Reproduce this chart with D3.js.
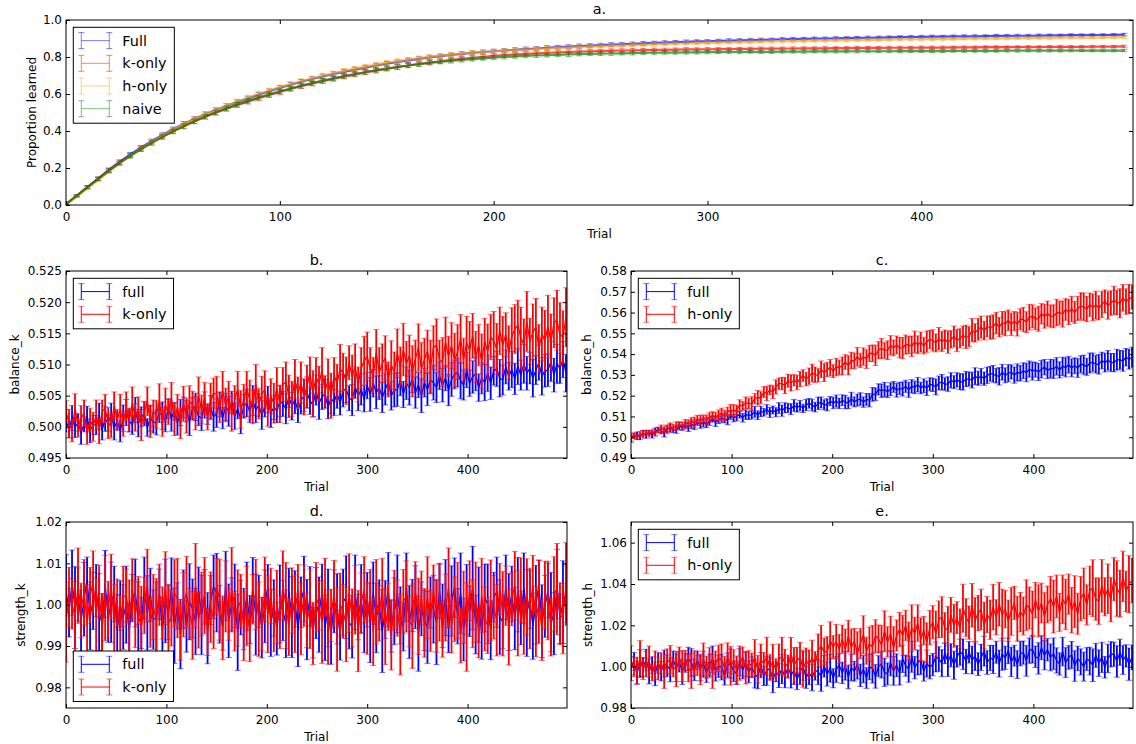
<!DOCTYPE html>
<html>
<head>
<meta charset="utf-8">
<script src="https://cdn.jsdelivr.net/npm/d3@7"></script>
<style>
  body { margin: 0; background: #fff; }
  text { font-family: "DejaVu Sans", sans-serif; fill: #000; }
</style>
</head>
<body>
<svg id="fig" width="1136" height="744"></svg>
<script>
// Trials at which the learning curves (a) and the parameter traces (b-e) were logged
const trialsA = d3.range(0, 500, 5);
const trialsP = d3.range(0, 500, 3);
const xTicks = [0, 100, 200, 300, 400];

// ---- a. proportion of items learned ----
const propFull = [0.005,0.050,0.097,0.143,0.190,0.233,0.273,0.310,0.345,0.378,0.409,0.438,0.465,0.490,0.513,0.535,0.556,0.576,0.596,0.615,
0.633,0.650,0.666,0.681,0.695,0.708,0.720,0.732,0.743,0.754,0.764,0.773,0.782,0.790,0.798,0.805,0.811,0.817,0.822,0.827,
0.831,0.835,0.839,0.843,0.846,0.850,0.853,0.856,0.859,0.862,0.864,0.867,0.869,0.871,0.874,0.876,0.878,0.880,0.882,0.884,
0.885,0.887,0.889,0.890,0.892,0.893,0.894,0.896,0.897,0.898,0.899,0.900,0.901,0.902,0.903,0.904,0.905,0.906,0.907,0.908,
0.909,0.910,0.910,0.911,0.912,0.912,0.913,0.914,0.914,0.915,0.915,0.916,0.917,0.917,0.918,0.918,0.919,0.919,0.920,0.921];
const propKonly = [0.005,0.050,0.096,0.141,0.186,0.228,0.267,0.303,0.337,0.369,0.399,0.427,0.453,0.477,0.499,0.520,0.540,0.559,0.577,0.594,
0.611,0.627,0.642,0.656,0.669,0.682,0.694,0.705,0.716,0.726,0.736,0.745,0.754,0.762,0.770,0.777,0.784,0.790,0.796,0.801,
0.806,0.810,0.814,0.817,0.820,0.823,0.825,0.827,0.829,0.831,0.832,0.834,0.835,0.836,0.837,0.838,0.839,0.840,0.841,0.841,
0.842,0.843,0.843,0.844,0.844,0.845,0.845,0.846,0.846,0.847,0.847,0.847,0.848,0.848,0.849,0.849,0.849,0.850,0.850,0.850,
0.851,0.851,0.851,0.852,0.852,0.852,0.853,0.853,0.853,0.854,0.854,0.854,0.855,0.855,0.855,0.855,0.856,0.856,0.856,0.857];
const propHonly = [0.003,0.045,0.090,0.135,0.180,0.224,0.265,0.303,0.340,0.374,0.406,0.436,0.464,0.490,0.514,0.537,0.559,0.580,0.600,0.619,
0.637,0.654,0.670,0.685,0.699,0.712,0.725,0.737,0.748,0.759,0.769,0.778,0.786,0.794,0.801,0.807,0.813,0.818,0.823,0.827,
0.831,0.834,0.837,0.840,0.843,0.846,0.849,0.851,0.854,0.856,0.858,0.860,0.862,0.864,0.866,0.868,0.870,0.872,0.873,0.875,
0.876,0.878,0.879,0.880,0.882,0.883,0.884,0.885,0.886,0.887,0.888,0.889,0.890,0.891,0.892,0.893,0.893,0.894,0.895,0.896,
0.896,0.897,0.898,0.898,0.899,0.900,0.900,0.901,0.901,0.902,0.902,0.903,0.903,0.904,0.904,0.905,0.905,0.906,0.906,0.907];
const propNaive = [0.004,0.049,0.095,0.140,0.184,0.226,0.265,0.301,0.335,0.367,0.397,0.425,0.452,0.477,0.500,0.522,0.543,0.563,0.581,0.598,
0.614,0.630,0.645,0.659,0.672,0.685,0.697,0.708,0.719,0.729,0.738,0.746,0.754,0.761,0.768,0.774,0.779,0.784,0.789,0.793,
0.797,0.800,0.803,0.806,0.808,0.810,0.812,0.814,0.816,0.817,0.818,0.819,0.820,0.821,0.822,0.823,0.824,0.824,0.825,0.825,
0.826,0.826,0.827,0.827,0.828,0.828,0.828,0.829,0.829,0.829,0.830,0.830,0.830,0.830,0.831,0.831,0.831,0.831,0.832,0.832,
0.832,0.832,0.832,0.833,0.833,0.833,0.833,0.833,0.834,0.834,0.834,0.834,0.834,0.834,0.835,0.835,0.835,0.835,0.835,0.835];
const errPropFull = [0.002,0.006,0.008,0.009,0.010,0.011,0.011,0.012,0.011,0.012,0.012,0.013,0.012,0.013,0.012,0.012,0.013,0.012,0.013,0.012,
0.012,0.013,0.012,0.012,0.013,0.012,0.012,0.013,0.012,0.012,0.012,0.011,0.012,0.011,0.012,0.011,0.011,0.012,0.011,0.011,
0.011,0.010,0.011,0.011,0.010,0.011,0.010,0.010,0.011,0.010,0.010,0.010,0.009,0.010,0.010,0.009,0.010,0.009,0.010,0.009,
0.009,0.009,0.010,0.009,0.009,0.009,0.008,0.009,0.009,0.008,0.009,0.008,0.009,0.008,0.008,0.009,0.008,0.008,0.008,0.008,
0.008,0.008,0.007,0.008,0.008,0.008,0.007,0.008,0.007,0.008,0.007,0.008,0.007,0.007,0.008,0.007,0.007,0.007,0.007,0.007];
const errPropKonly = [0.002,0.005,0.008,0.009,0.010,0.010,0.011,0.012,0.012,0.011,0.012,0.012,0.013,0.012,0.013,0.013,0.012,0.013,0.012,0.013,
0.013,0.012,0.013,0.012,0.012,0.013,0.012,0.012,0.012,0.013,0.011,0.012,0.012,0.011,0.011,0.012,0.011,0.011,0.011,0.012,
0.010,0.011,0.011,0.010,0.011,0.010,0.011,0.010,0.010,0.010,0.009,0.010,0.010,0.010,0.009,0.010,0.009,0.009,0.010,0.009,
0.009,0.009,0.009,0.008,0.009,0.009,0.009,0.008,0.009,0.008,0.008,0.009,0.008,0.008,0.009,0.008,0.008,0.008,0.008,0.007,
0.008,0.008,0.008,0.007,0.008,0.007,0.008,0.008,0.007,0.007,0.008,0.007,0.007,0.008,0.007,0.007,0.007,0.007,0.006,0.007];
const errPropHonly = [0.002,0.006,0.007,0.009,0.010,0.011,0.012,0.011,0.012,0.012,0.013,0.012,0.012,0.013,0.013,0.012,0.013,0.013,0.012,0.013,
0.012,0.013,0.013,0.012,0.013,0.012,0.013,0.012,0.012,0.012,0.012,0.012,0.011,0.012,0.011,0.012,0.011,0.011,0.012,0.011,
0.011,0.011,0.010,0.011,0.010,0.011,0.010,0.011,0.010,0.010,0.010,0.009,0.010,0.010,0.009,0.010,0.009,0.009,0.009,0.010,
0.009,0.009,0.008,0.009,0.009,0.008,0.009,0.009,0.008,0.009,0.008,0.008,0.008,0.009,0.008,0.008,0.008,0.007,0.008,0.008,
0.008,0.007,0.008,0.008,0.007,0.008,0.007,0.007,0.008,0.007,0.007,0.007,0.008,0.007,0.007,0.007,0.006,0.007,0.007,0.007];
const errPropNaive = [0.002,0.005,0.007,0.008,0.009,0.010,0.011,0.011,0.012,0.012,0.012,0.013,0.012,0.012,0.013,0.012,0.013,0.012,0.012,0.013,
0.012,0.012,0.013,0.012,0.012,0.012,0.013,0.012,0.012,0.011,0.012,0.012,0.011,0.012,0.011,0.011,0.012,0.011,0.011,0.010,
0.011,0.011,0.010,0.010,0.011,0.010,0.010,0.011,0.010,0.009,0.010,0.010,0.009,0.010,0.009,0.010,0.009,0.009,0.009,0.009,
0.009,0.008,0.009,0.009,0.008,0.009,0.009,0.008,0.008,0.009,0.008,0.008,0.008,0.008,0.009,0.008,0.007,0.008,0.008,0.008,
0.007,0.008,0.008,0.007,0.008,0.007,0.008,0.007,0.007,0.008,0.007,0.007,0.007,0.007,0.007,0.006,0.007,0.007,0.007,0.006];

// ---- b. balance_k ----
const balKFull = [0.5010,0.4996,0.5014,0.4999,0.5007,0.4991,0.5004,0.5016,0.4994,0.5003,
0.5003,0.5017,0.4995,0.5013,0.5006,0.5020,0.4998,0.5010,0.4993,0.5014,
0.5023,0.5010,0.5003,0.5027,0.5006,0.5016,0.5021,0.4999,0.5014,0.5007,
0.5007,0.5022,0.5018,0.5010,0.5029,0.5014,0.5025,0.5006,0.5023,0.5031,
0.5025,0.5009,0.5029,0.5032,0.5017,0.5014,0.5035,0.5020,0.5031,0.5016,
0.5022,0.5036,0.5014,0.5032,0.5025,0.5039,0.5017,0.5029,0.5012,0.5033,
0.5038,0.5024,0.5042,0.5027,0.5035,0.5019,0.5032,0.5044,0.5022,0.5031,
0.5026,0.5041,0.5037,0.5029,0.5048,0.5033,0.5044,0.5025,0.5042,0.5050,
0.5055,0.5042,0.5035,0.5059,0.5038,0.5048,0.5053,0.5031,0.5046,0.5039,
0.5054,0.5038,0.5058,0.5061,0.5046,0.5043,0.5064,0.5049,0.5060,0.5045,
0.5066,0.5052,0.5070,0.5055,0.5063,0.5047,0.5060,0.5072,0.5050,0.5059,
0.5060,0.5074,0.5052,0.5070,0.5063,0.5077,0.5055,0.5067,0.5050,0.5071,
0.5060,0.5075,0.5071,0.5063,0.5082,0.5067,0.5078,0.5059,0.5076,0.5084,
0.5087,0.5074,0.5067,0.5091,0.5070,0.5080,0.5085,0.5063,0.5078,0.5071,
0.5086,0.5070,0.5090,0.5093,0.5078,0.5075,0.5096,0.5081,0.5092,0.5077,
0.5097,0.5083,0.5101,0.5086,0.5094,0.5078,0.5091,0.5103,0.5081,0.5090,
0.5091,0.5105,0.5083,0.5101,0.5094,0.5108,0.5086];
const balKKonly = [0.5025,0.5005,0.4994,0.5031,0.4999,0.5014,0.5022,0.4988,0.5011,0.5000,
0.5019,0.4994,0.5025,0.5029,0.5006,0.5002,0.5034,0.5011,0.5028,0.5005,
0.5032,0.5011,0.5038,0.5015,0.5028,0.5003,0.5023,0.5041,0.5008,0.5022,
0.5020,0.5041,0.5008,0.5035,0.5024,0.5046,0.5012,0.5031,0.5005,0.5037,
0.5018,0.5041,0.5035,0.5022,0.5051,0.5028,0.5045,0.5016,0.5042,0.5054,
0.5052,0.5031,0.5058,0.5035,0.5048,0.5023,0.5043,0.5061,0.5028,0.5042,
0.5063,0.5043,0.5032,0.5069,0.5037,0.5052,0.5060,0.5026,0.5049,0.5038,
0.5062,0.5037,0.5068,0.5072,0.5049,0.5045,0.5077,0.5054,0.5071,0.5048,
0.5065,0.5086,0.5053,0.5080,0.5069,0.5091,0.5057,0.5076,0.5050,0.5082,
0.5070,0.5093,0.5087,0.5074,0.5103,0.5080,0.5097,0.5068,0.5094,0.5106,
0.5113,0.5093,0.5082,0.5119,0.5087,0.5102,0.5110,0.5076,0.5099,0.5088,
0.5118,0.5097,0.5124,0.5101,0.5114,0.5089,0.5109,0.5127,0.5094,0.5108,
0.5121,0.5096,0.5127,0.5131,0.5108,0.5104,0.5136,0.5113,0.5130,0.5107,
0.5120,0.5141,0.5108,0.5135,0.5124,0.5146,0.5112,0.5131,0.5105,0.5137,
0.5121,0.5144,0.5138,0.5125,0.5154,0.5131,0.5148,0.5119,0.5145,0.5157,
0.5163,0.5143,0.5132,0.5169,0.5137,0.5152,0.5160,0.5126,0.5149,0.5138,
0.5161,0.5136,0.5167,0.5171,0.5148,0.5144,0.5176];
const errBalKFull = [0.0018,0.0013,0.0020,0.0016,0.0014,0.0019,0.0012,0.0017,0.0019,0.0015,
0.0015,0.0021,0.0016,0.0020,0.0013,0.0018,0.0019,0.0014,0.0017,0.0021,
0.0021,0.0018,0.0015,0.0020,0.0022,0.0016,0.0019,0.0014,0.0021,0.0017,
0.0020,0.0015,0.0022,0.0018,0.0016,0.0021,0.0014,0.0019,0.0021,0.0017,
0.0017,0.0023,0.0018,0.0022,0.0015,0.0020,0.0021,0.0016,0.0019,0.0023,
0.0023,0.0020,0.0017,0.0022,0.0024,0.0018,0.0021,0.0016,0.0023,0.0019,
0.0022,0.0017,0.0024,0.0020,0.0018,0.0023,0.0016,0.0021,0.0023,0.0019,
0.0019,0.0025,0.0020,0.0024,0.0017,0.0022,0.0023,0.0018,0.0021,0.0025,
0.0025,0.0022,0.0019,0.0024,0.0026,0.0020,0.0023,0.0018,0.0025,0.0021,
0.0024,0.0019,0.0026,0.0022,0.0020,0.0025,0.0018,0.0023,0.0025,0.0021,
0.0021,0.0027,0.0022,0.0026,0.0019,0.0024,0.0025,0.0020,0.0023,0.0027,
0.0027,0.0024,0.0021,0.0026,0.0028,0.0022,0.0025,0.0020,0.0027,0.0023,
0.0026,0.0021,0.0028,0.0024,0.0022,0.0027,0.0020,0.0025,0.0027,0.0023,
0.0023,0.0029,0.0024,0.0028,0.0021,0.0026,0.0027,0.0022,0.0025,0.0029,
0.0029,0.0026,0.0023,0.0028,0.0030,0.0024,0.0027,0.0022,0.0029,0.0025,
0.0029,0.0024,0.0031,0.0027,0.0025,0.0030,0.0023,0.0028,0.0030,0.0026,
0.0026,0.0032,0.0027,0.0031,0.0024,0.0029,0.0030];
const errBalKKonly = [0.0017,0.0023,0.0018,0.0022,0.0015,0.0020,0.0021,0.0016,0.0019,0.0023,
0.0024,0.0021,0.0018,0.0023,0.0025,0.0019,0.0022,0.0017,0.0024,0.0020,
0.0024,0.0019,0.0026,0.0022,0.0020,0.0025,0.0018,0.0023,0.0025,0.0021,
0.0022,0.0028,0.0023,0.0027,0.0020,0.0025,0.0026,0.0021,0.0024,0.0028,
0.0028,0.0025,0.0022,0.0027,0.0029,0.0023,0.0026,0.0021,0.0028,0.0024,
0.0029,0.0024,0.0031,0.0027,0.0025,0.0030,0.0023,0.0028,0.0030,0.0026,
0.0026,0.0032,0.0027,0.0031,0.0024,0.0029,0.0030,0.0025,0.0028,0.0032,
0.0033,0.0030,0.0027,0.0032,0.0034,0.0028,0.0031,0.0026,0.0033,0.0029,
0.0034,0.0026,0.0037,0.0031,0.0028,0.0036,0.0025,0.0033,0.0036,0.0029,
0.0030,0.0039,0.0031,0.0038,0.0027,0.0035,0.0036,0.0028,0.0033,0.0039,
0.0039,0.0034,0.0029,0.0037,0.0040,0.0031,0.0036,0.0028,0.0039,0.0032,
0.0039,0.0031,0.0042,0.0036,0.0033,0.0041,0.0030,0.0038,0.0041,0.0034,
0.0034,0.0043,0.0035,0.0042,0.0031,0.0039,0.0040,0.0032,0.0037,0.0043,
0.0044,0.0039,0.0034,0.0042,0.0045,0.0036,0.0041,0.0033,0.0044,0.0037,
0.0044,0.0036,0.0047,0.0041,0.0038,0.0046,0.0035,0.0043,0.0046,0.0039,
0.0040,0.0049,0.0041,0.0048,0.0037,0.0045,0.0046,0.0038,0.0043,0.0049,
0.0050,0.0045,0.0040,0.0048,0.0051,0.0042,0.0047];

// ---- c. balance_h ----
const balHFull = [0.4992,0.5007,0.5007,0.5002,0.5021,0.5012,0.5023,0.5011,0.5027,0.5036,
0.5030,0.5021,0.5040,0.5044,0.5035,0.5036,0.5055,0.5046,0.5057,0.5048,
0.5063,0.5055,0.5072,0.5063,0.5072,0.5062,0.5076,0.5087,0.5073,0.5083,
0.5094,0.5086,0.5084,0.5106,0.5092,0.5102,0.5108,0.5094,0.5109,0.5105,
0.5108,0.5122,0.5106,0.5124,0.5120,0.5134,0.5119,0.5131,0.5120,0.5140,
0.5128,0.5142,0.5140,0.5135,0.5153,0.5143,0.5152,0.5139,0.5155,0.5163,
0.5155,0.5145,0.5163,0.5167,0.5156,0.5156,0.5174,0.5164,0.5174,0.5163,
0.5178,0.5169,0.5165,0.5185,0.5170,0.5179,0.5184,0.5169,0.5182,0.5178,
0.5206,0.5207,0.5230,0.5223,0.5230,0.5219,0.5231,0.5242,0.5226,0.5235,
0.5232,0.5245,0.5228,0.5245,0.5240,0.5253,0.5237,0.5248,0.5236,0.5255,
0.5252,0.5242,0.5261,0.5265,0.5256,0.5256,0.5274,0.5265,0.5276,0.5267,
0.5266,0.5280,0.5280,0.5275,0.5294,0.5284,0.5294,0.5282,0.5298,0.5305,
0.5305,0.5296,0.5293,0.5313,0.5298,0.5308,0.5314,0.5299,0.5312,0.5308,
0.5320,0.5311,0.5328,0.5318,0.5325,0.5314,0.5327,0.5337,0.5322,0.5331,
0.5328,0.5341,0.5324,0.5341,0.5336,0.5349,0.5334,0.5344,0.5333,0.5351,
0.5349,0.5339,0.5357,0.5361,0.5351,0.5351,0.5369,0.5359,0.5370,0.5360,
0.5359,0.5373,0.5372,0.5367,0.5385,0.5375,0.5385];
const balHHonly = [0.4998,0.5008,0.5001,0.5013,0.5014,0.5023,0.5017,0.5026,0.5021,0.5034,
0.5040,0.5037,0.5038,0.5052,0.5046,0.5054,0.5060,0.5054,0.5065,0.5066,
0.5075,0.5072,0.5085,0.5082,0.5089,0.5085,0.5095,0.5105,0.5098,0.5106,
0.5112,0.5105,0.5123,0.5130,0.5127,0.5131,0.5154,0.5151,0.5166,0.5162,
0.5163,0.5186,0.5190,0.5190,0.5217,0.5210,0.5228,0.5217,0.5242,0.5258,
0.5258,0.5249,0.5272,0.5261,0.5274,0.5263,0.5280,0.5297,0.5280,0.5294,
0.5309,0.5301,0.5298,0.5327,0.5311,0.5326,0.5335,0.5318,0.5338,0.5336,
0.5343,0.5362,0.5346,0.5369,0.5368,0.5387,0.5370,0.5388,0.5376,0.5403,
0.5404,0.5394,0.5419,0.5427,0.5418,0.5419,0.5443,0.5430,0.5444,0.5431,
0.5429,0.5446,0.5444,0.5438,0.5459,0.5445,0.5458,0.5441,0.5460,0.5470,
0.5466,0.5454,0.5474,0.5461,0.5471,0.5457,0.5471,0.5485,0.5465,0.5476,
0.5488,0.5483,0.5484,0.5516,0.5502,0.5519,0.5530,0.5513,0.5533,0.5528,
0.5532,0.5549,0.5530,0.5550,0.5546,0.5563,0.5544,0.5559,0.5544,0.5568,
0.5567,0.5554,0.5577,0.5582,0.5570,0.5570,0.5594,0.5582,0.5595,0.5583,
0.5582,0.5600,0.5599,0.5593,0.5615,0.5603,0.5617,0.5601,0.5620,0.5631,
0.5628,0.5617,0.5638,0.5625,0.5636,0.5623,0.5639,0.5654,0.5634,0.5646,
0.5659,0.5649,0.5645,0.5671,0.5653,0.5666,0.5674];
const errBalHFull = [0.0016,0.0011,0.0018,0.0014,0.0012,0.0017,0.0010,0.0015,0.0017,0.0013,
0.0014,0.0020,0.0015,0.0019,0.0012,0.0017,0.0018,0.0013,0.0016,0.0020,
0.0021,0.0018,0.0015,0.0020,0.0022,0.0016,0.0019,0.0014,0.0021,0.0017,
0.0022,0.0017,0.0024,0.0020,0.0018,0.0023,0.0016,0.0021,0.0023,0.0019,
0.0020,0.0026,0.0021,0.0025,0.0018,0.0023,0.0024,0.0019,0.0022,0.0026,
0.0027,0.0024,0.0021,0.0026,0.0028,0.0022,0.0025,0.0020,0.0027,0.0023,
0.0028,0.0023,0.0030,0.0026,0.0024,0.0029,0.0022,0.0027,0.0029,0.0025,
0.0026,0.0032,0.0027,0.0031,0.0024,0.0029,0.0030,0.0025,0.0028,0.0032,
0.0033,0.0030,0.0027,0.0032,0.0034,0.0028,0.0031,0.0026,0.0033,0.0029,
0.0034,0.0029,0.0036,0.0032,0.0030,0.0035,0.0028,0.0033,0.0035,0.0031,
0.0032,0.0038,0.0033,0.0037,0.0030,0.0035,0.0036,0.0031,0.0034,0.0038,
0.0039,0.0036,0.0033,0.0038,0.0040,0.0034,0.0037,0.0032,0.0039,0.0035,
0.0040,0.0035,0.0042,0.0038,0.0036,0.0041,0.0034,0.0039,0.0041,0.0037,
0.0038,0.0044,0.0039,0.0043,0.0036,0.0041,0.0042,0.0037,0.0040,0.0044,
0.0045,0.0042,0.0039,0.0044,0.0046,0.0040,0.0043,0.0038,0.0045,0.0041,
0.0046,0.0041,0.0048,0.0044,0.0042,0.0047,0.0040,0.0045,0.0047,0.0043,
0.0044,0.0050,0.0045,0.0049,0.0042,0.0047,0.0048];
const errBalHHonly = [0.0016,0.0013,0.0010,0.0015,0.0017,0.0011,0.0014,0.0009,0.0016,0.0012,
0.0019,0.0014,0.0021,0.0017,0.0015,0.0020,0.0013,0.0018,0.0020,0.0016,
0.0019,0.0025,0.0020,0.0024,0.0017,0.0022,0.0023,0.0018,0.0021,0.0025,
0.0028,0.0025,0.0022,0.0027,0.0029,0.0023,0.0026,0.0021,0.0028,0.0024,
0.0032,0.0024,0.0035,0.0029,0.0026,0.0034,0.0023,0.0031,0.0034,0.0027,
0.0030,0.0039,0.0031,0.0038,0.0027,0.0035,0.0036,0.0028,0.0033,0.0039,
0.0042,0.0037,0.0032,0.0040,0.0043,0.0034,0.0039,0.0031,0.0042,0.0035,
0.0043,0.0035,0.0046,0.0040,0.0037,0.0045,0.0034,0.0042,0.0045,0.0038,
0.0040,0.0049,0.0041,0.0048,0.0037,0.0045,0.0046,0.0038,0.0043,0.0049,
0.0051,0.0046,0.0041,0.0049,0.0052,0.0043,0.0048,0.0040,0.0051,0.0044,
0.0051,0.0043,0.0054,0.0048,0.0045,0.0053,0.0042,0.0050,0.0053,0.0046,
0.0047,0.0056,0.0048,0.0055,0.0044,0.0052,0.0053,0.0045,0.0050,0.0056,
0.0057,0.0052,0.0047,0.0055,0.0058,0.0049,0.0054,0.0046,0.0057,0.0050,
0.0058,0.0050,0.0061,0.0055,0.0052,0.0060,0.0049,0.0057,0.0060,0.0053,
0.0055,0.0064,0.0056,0.0063,0.0052,0.0060,0.0061,0.0053,0.0058,0.0064,
0.0066,0.0061,0.0056,0.0064,0.0067,0.0058,0.0063,0.0055,0.0066,0.0059,
0.0067,0.0059,0.0070,0.0064,0.0061,0.0069,0.0058];

// ---- d. strength_k ----
const strKFull = [1.0037,0.9981,1.0053,0.9993,1.0025,0.9961,1.0013,1.0061,0.9973,1.0009,
1.0034,0.9982,0.9954,1.0050,0.9966,1.0006,1.0026,0.9938,0.9998,0.9970,
1.0000,0.9936,1.0016,1.0028,0.9968,0.9956,1.0040,0.9980,1.0024,0.9964,
0.9969,1.0025,0.9937,1.0009,0.9981,1.0037,0.9949,0.9997,0.9929,1.0013,
0.9947,1.0007,0.9991,0.9959,1.0035,0.9975,1.0019,0.9943,1.0011,1.0043,
1.0029,0.9977,0.9949,1.0045,0.9961,1.0001,1.0021,0.9933,0.9993,0.9965,
1.0020,0.9964,1.0036,0.9976,1.0008,0.9944,0.9996,1.0044,0.9956,0.9992,
0.9942,1.0002,0.9986,0.9954,1.0030,0.9970,1.0014,0.9938,1.0006,1.0038,
0.9964,1.0020,0.9932,1.0004,0.9976,1.0032,0.9944,0.9992,0.9924,1.0008,
0.9990,0.9926,1.0006,1.0018,0.9958,0.9946,1.0030,0.9970,1.0014,0.9954,
1.0012,0.9956,1.0028,0.9968,1.0000,0.9936,0.9988,1.0036,0.9948,0.9984,
1.0026,0.9974,0.9946,1.0042,0.9958,0.9998,1.0018,0.9930,0.9990,0.9962,
0.9945,1.0005,0.9989,0.9957,1.0033,0.9973,1.0017,0.9941,1.0009,1.0041,
0.9972,1.0028,0.9940,1.0012,0.9984,1.0040,0.9952,1.0000,0.9932,1.0016,
1.0002,0.9938,1.0018,1.0030,0.9970,0.9958,1.0042,0.9982,1.0026,0.9966,
1.0024,0.9968,1.0040,0.9980,1.0012,0.9948,1.0000,1.0048,0.9960,0.9996,
1.0034,0.9982,0.9954,1.0050,0.9966,1.0006,1.0026];
const strKKonly = [0.9958,1.0018,1.0002,0.9970,1.0046,0.9986,1.0030,0.9954,1.0022,1.0054,
0.9976,1.0032,0.9944,1.0016,0.9988,1.0044,0.9956,1.0004,0.9936,1.0020,
1.0022,0.9966,1.0038,0.9978,1.0010,0.9946,0.9998,1.0046,0.9958,0.9994,
0.9964,1.0024,0.9980,1.0040,0.9956,0.9968,1.0028,1.0016,0.9936,1.0000,
1.0030,0.9978,0.9950,1.0046,0.9962,1.0002,1.0022,0.9934,0.9994,0.9966,
1.0044,1.0012,0.9944,1.0020,0.9976,1.0036,0.9960,0.9992,1.0008,0.9948,
0.9997,0.9933,1.0013,1.0025,0.9965,0.9953,1.0037,0.9977,1.0021,0.9961,
0.9994,0.9958,1.0046,0.9998,0.9946,1.0010,0.9978,1.0038,0.9966,1.0022,
0.9962,0.9990,0.9930,1.0018,0.9998,0.9958,1.0042,0.9946,0.9974,1.0026,
0.9940,1.0000,0.9984,0.9952,1.0028,0.9968,1.0012,0.9936,1.0004,1.0036,
0.9967,1.0023,0.9935,1.0007,0.9979,1.0035,0.9947,0.9995,0.9927,1.0011,
0.9992,0.9928,1.0008,1.0020,0.9960,0.9948,1.0032,0.9972,1.0016,0.9956,
1.0017,0.9961,1.0033,0.9973,1.0005,0.9941,0.9993,1.0041,0.9953,0.9989,
1.0010,0.9926,0.9994,0.9946,1.0034,0.9978,1.0006,0.9934,1.0022,0.9966,
0.9950,1.0010,0.9994,0.9962,1.0038,0.9978,1.0022,0.9946,1.0014,1.0046,
0.9979,1.0035,0.9947,1.0019,0.9991,1.0047,0.9959,1.0007,0.9939,1.0023,
1.0010,0.9946,1.0026,1.0038,0.9978,0.9966,1.0050];
const errStrKFull = [0.0084,0.0059,0.0079,0.0099,0.0064,0.0074,0.0089,0.0054,0.0082,0.0069,
0.0063,0.0093,0.0072,0.0081,0.0057,0.0097,0.0067,0.0087,0.0060,0.0078,
0.0093,0.0068,0.0057,0.0082,0.0087,0.0062,0.0075,0.0090,0.0064,0.0072,
0.0086,0.0061,0.0081,0.0101,0.0066,0.0076,0.0091,0.0056,0.0084,0.0071,
0.0062,0.0092,0.0071,0.0080,0.0056,0.0096,0.0066,0.0086,0.0059,0.0077,
0.0095,0.0070,0.0059,0.0084,0.0089,0.0064,0.0077,0.0092,0.0066,0.0074,
0.0083,0.0058,0.0078,0.0098,0.0063,0.0073,0.0088,0.0053,0.0081,0.0068,
0.0064,0.0094,0.0073,0.0082,0.0058,0.0098,0.0068,0.0088,0.0061,0.0079,
0.0097,0.0072,0.0061,0.0086,0.0091,0.0066,0.0079,0.0094,0.0068,0.0076,
0.0085,0.0060,0.0080,0.0100,0.0065,0.0075,0.0090,0.0055,0.0083,0.0070,
0.0066,0.0096,0.0075,0.0084,0.0060,0.0100,0.0070,0.0090,0.0063,0.0081,
0.0094,0.0069,0.0058,0.0083,0.0088,0.0063,0.0076,0.0091,0.0065,0.0073,
0.0087,0.0062,0.0082,0.0102,0.0067,0.0077,0.0092,0.0057,0.0085,0.0072,
0.0067,0.0097,0.0076,0.0085,0.0061,0.0101,0.0071,0.0091,0.0064,0.0082,
0.0096,0.0071,0.0060,0.0085,0.0090,0.0065,0.0078,0.0093,0.0067,0.0075,
0.0090,0.0065,0.0085,0.0105,0.0070,0.0080,0.0095,0.0060,0.0088,0.0075,
0.0066,0.0096,0.0075,0.0084,0.0060,0.0100,0.0070];
const errStrKKonly = [0.0097,0.0072,0.0061,0.0086,0.0091,0.0066,0.0079,0.0094,0.0068,0.0076,
0.0088,0.0063,0.0083,0.0103,0.0068,0.0078,0.0093,0.0058,0.0086,0.0073,
0.0064,0.0094,0.0073,0.0082,0.0058,0.0098,0.0068,0.0088,0.0061,0.0079,
0.0099,0.0074,0.0063,0.0088,0.0093,0.0068,0.0081,0.0096,0.0070,0.0078,
0.0087,0.0062,0.0082,0.0102,0.0067,0.0077,0.0092,0.0057,0.0085,0.0072,
0.0068,0.0098,0.0077,0.0086,0.0062,0.0102,0.0072,0.0092,0.0065,0.0083,
0.0096,0.0071,0.0060,0.0085,0.0090,0.0065,0.0078,0.0093,0.0067,0.0075,
0.0089,0.0064,0.0084,0.0104,0.0069,0.0079,0.0094,0.0059,0.0087,0.0074,
0.0066,0.0096,0.0075,0.0084,0.0060,0.0100,0.0070,0.0090,0.0063,0.0081,
0.0101,0.0076,0.0065,0.0090,0.0095,0.0070,0.0083,0.0098,0.0072,0.0080,
0.0087,0.0062,0.0082,0.0102,0.0067,0.0077,0.0092,0.0057,0.0085,0.0072,
0.0068,0.0098,0.0077,0.0086,0.0062,0.0102,0.0072,0.0092,0.0065,0.0083,
0.0099,0.0074,0.0063,0.0088,0.0093,0.0068,0.0081,0.0096,0.0070,0.0078,
0.0092,0.0067,0.0087,0.0107,0.0072,0.0082,0.0097,0.0062,0.0090,0.0077,
0.0068,0.0098,0.0077,0.0086,0.0062,0.0102,0.0072,0.0092,0.0065,0.0083,
0.0103,0.0078,0.0067,0.0092,0.0097,0.0072,0.0085,0.0100,0.0074,0.0082,
0.0095,0.0070,0.0090,0.0110,0.0075,0.0085,0.0100];

// ---- e. strength_h ----
const strHFull = [0.9990,1.0025,0.9970,1.0015,0.9998,1.0032,0.9978,1.0008,0.9965,1.0018,
0.9978,1.0015,1.0005,0.9985,1.0033,0.9995,1.0023,0.9975,1.0018,1.0038,
1.0020,0.9985,1.0030,0.9992,1.0012,0.9972,1.0005,1.0035,0.9980,1.0002,
0.9998,0.9958,1.0008,1.0015,0.9978,0.9970,1.0022,0.9985,1.0012,0.9975,
0.9998,0.9965,0.9948,1.0008,0.9955,0.9980,0.9992,0.9938,0.9975,0.9958,
0.9988,0.9953,0.9998,0.9960,0.9980,0.9940,0.9973,1.0003,0.9948,0.9970,
0.9947,0.9984,0.9974,0.9954,1.0002,0.9964,0.9992,0.9944,0.9987,1.0007,
0.9970,1.0005,0.9950,0.9995,0.9978,1.0012,0.9958,0.9988,0.9945,0.9998,
0.9993,0.9953,1.0003,1.0010,0.9973,0.9965,1.0017,0.9980,1.0007,0.9970,
1.0038,1.0005,0.9988,1.0048,0.9995,1.0020,1.0032,0.9978,1.0015,0.9998,
1.0010,1.0047,1.0037,1.0017,1.0065,1.0027,1.0055,1.0007,1.0050,1.0070,
1.0060,1.0025,1.0070,1.0032,1.0052,1.0012,1.0045,1.0075,1.0020,1.0042,
1.0035,1.0070,1.0015,1.0060,1.0043,1.0077,1.0023,1.0053,1.0010,1.0063,
1.0068,1.0028,1.0078,1.0085,1.0048,1.0040,1.0092,1.0055,1.0082,1.0045,
1.0063,1.0030,1.0013,1.0073,1.0020,1.0045,1.0057,1.0003,1.0040,1.0023,
1.0000,1.0037,1.0027,1.0007,1.0055,1.0017,1.0045,0.9997,1.0040,1.0060,
1.0060,1.0025,1.0070,1.0032,1.0052,1.0012,1.0045];
const strHHonly = [1.0031,0.9998,0.9981,1.0041,0.9988,1.0013,1.0025,0.9971,1.0008,0.9991,
1.0016,0.9976,1.0026,1.0033,0.9996,0.9988,1.0040,1.0003,1.0030,0.9993,
0.9980,1.0017,1.0007,0.9987,1.0035,0.9997,1.0025,0.9977,1.0020,1.0040,
1.0032,0.9997,1.0042,1.0004,1.0024,0.9984,1.0017,1.0047,0.9992,1.0014,
1.0008,1.0043,0.9988,1.0033,1.0016,1.0050,0.9996,1.0026,0.9983,1.0036,
1.0050,1.0017,1.0000,1.0060,1.0007,1.0032,1.0044,0.9990,1.0027,1.0010,
1.0043,1.0013,1.0078,1.0100,1.0073,1.0070,1.0127,1.0095,1.0122,1.0085,
1.0133,1.0084,1.0147,1.0095,1.0123,1.0067,1.0112,1.0154,1.0077,1.0109,
1.0095,1.0148,1.0134,1.0106,1.0172,1.0120,1.0158,1.0092,1.0151,1.0179,
1.0151,1.0200,1.0123,1.0186,1.0161,1.0211,1.0133,1.0175,1.0116,1.0189,
1.0215,1.0159,1.0229,1.0240,1.0187,1.0177,1.0251,1.0198,1.0237,1.0184,
1.0283,1.0238,1.0213,1.0297,1.0224,1.0259,1.0277,1.0199,1.0252,1.0227,
1.0288,1.0239,1.0302,1.0250,1.0278,1.0222,1.0267,1.0309,1.0232,1.0264,
1.0245,1.0298,1.0284,1.0256,1.0322,1.0270,1.0308,1.0242,1.0301,1.0329,
1.0291,1.0340,1.0263,1.0326,1.0301,1.0351,1.0273,1.0315,1.0256,1.0329,
1.0355,1.0299,1.0369,1.0380,1.0327,1.0317,1.0391,1.0338,1.0377,1.0324,
1.0423,1.0378,1.0353,1.0437,1.0364,1.0399,1.0417];
const errStrHFull = [0.0058,0.0043,0.0055,0.0067,0.0046,0.0052,0.0061,0.0040,0.0057,0.0049,
0.0047,0.0065,0.0052,0.0058,0.0043,0.0067,0.0049,0.0061,0.0045,0.0056,
0.0067,0.0052,0.0045,0.0060,0.0063,0.0048,0.0056,0.0065,0.0050,0.0054,
0.0062,0.0047,0.0059,0.0071,0.0050,0.0056,0.0065,0.0044,0.0061,0.0053,
0.0050,0.0068,0.0055,0.0061,0.0046,0.0070,0.0052,0.0064,0.0048,0.0059,
0.0070,0.0055,0.0048,0.0063,0.0066,0.0051,0.0059,0.0068,0.0053,0.0057,
0.0064,0.0049,0.0061,0.0073,0.0052,0.0058,0.0067,0.0046,0.0063,0.0055,
0.0052,0.0070,0.0057,0.0063,0.0048,0.0072,0.0054,0.0066,0.0050,0.0061,
0.0072,0.0057,0.0050,0.0065,0.0068,0.0053,0.0061,0.0070,0.0055,0.0059,
0.0066,0.0051,0.0063,0.0075,0.0054,0.0060,0.0069,0.0048,0.0065,0.0057,
0.0054,0.0072,0.0059,0.0065,0.0050,0.0074,0.0056,0.0068,0.0052,0.0063,
0.0074,0.0059,0.0052,0.0067,0.0070,0.0055,0.0063,0.0072,0.0057,0.0061,
0.0068,0.0053,0.0065,0.0077,0.0056,0.0062,0.0071,0.0050,0.0067,0.0059,
0.0056,0.0074,0.0061,0.0067,0.0052,0.0076,0.0058,0.0070,0.0054,0.0065,
0.0076,0.0061,0.0054,0.0069,0.0072,0.0057,0.0065,0.0074,0.0059,0.0063,
0.0070,0.0055,0.0067,0.0079,0.0058,0.0064,0.0073,0.0052,0.0069,0.0061,
0.0058,0.0076,0.0063,0.0069,0.0054,0.0078,0.0060];
const errStrHHonly = [0.0070,0.0045,0.0065,0.0085,0.0050,0.0060,0.0075,0.0040,0.0068,0.0055,
0.0051,0.0081,0.0060,0.0069,0.0045,0.0085,0.0055,0.0075,0.0048,0.0066,
0.0085,0.0060,0.0049,0.0074,0.0079,0.0054,0.0067,0.0082,0.0056,0.0064,
0.0078,0.0053,0.0073,0.0093,0.0058,0.0068,0.0083,0.0048,0.0076,0.0063,
0.0058,0.0088,0.0067,0.0076,0.0052,0.0092,0.0062,0.0082,0.0055,0.0073,
0.0092,0.0067,0.0056,0.0081,0.0086,0.0061,0.0074,0.0089,0.0063,0.0071,
0.0085,0.0060,0.0080,0.0100,0.0065,0.0075,0.0090,0.0055,0.0083,0.0070,
0.0068,0.0098,0.0077,0.0086,0.0062,0.0102,0.0072,0.0092,0.0065,0.0083,
0.0104,0.0079,0.0068,0.0093,0.0098,0.0073,0.0086,0.0101,0.0075,0.0083,
0.0098,0.0073,0.0093,0.0113,0.0078,0.0088,0.0103,0.0068,0.0096,0.0083,
0.0080,0.0110,0.0089,0.0098,0.0074,0.0114,0.0084,0.0104,0.0077,0.0095,
0.0116,0.0091,0.0080,0.0105,0.0110,0.0085,0.0098,0.0113,0.0087,0.0095,
0.0110,0.0085,0.0105,0.0125,0.0090,0.0100,0.0115,0.0080,0.0108,0.0095,
0.0092,0.0122,0.0101,0.0110,0.0086,0.0126,0.0096,0.0116,0.0089,0.0107,
0.0128,0.0103,0.0092,0.0117,0.0122,0.0097,0.0110,0.0125,0.0099,0.0107,
0.0122,0.0097,0.0117,0.0137,0.0102,0.0112,0.0127,0.0092,0.0120,0.0107,
0.0104,0.0134,0.0113,0.0122,0.0098,0.0138,0.0108];

// y tick values for each panel
const yTicksA = [0.0, 0.2, 0.4, 0.6, 0.8, 1.0];
const yTicksB = [0.495, 0.500, 0.505, 0.510, 0.515, 0.520, 0.525];
const yTicksC = [0.49, 0.50, 0.51, 0.52, 0.53, 0.54, 0.55, 0.56, 0.57, 0.58];
const yTicksD = [0.98, 0.99, 1.00, 1.01, 1.02];
const yTicksE = [0.98, 1.00, 1.02, 1.04, 1.06];

const BLUE = "#0000ff", RED = "#ff0000", ORANGE = "#ffa500", GREEN = "#008000";

const panels = [
  { title: "a.", box: [66, 20, 1133, 205], y: [0, 1], ticks: yTicksA, fmt: ".1f", trials: trialsA,
    ylabel: "Proportion learned", ylabelX: 32, alpha: 0.5, legend: "upper",
    series: [
      { name: "Full",   color: BLUE,   v: propFull,  e: errPropFull },
      { name: "k-only", color: RED,    v: propKonly, e: errPropKonly },
      { name: "h-only", color: ORANGE, v: propHonly, e: errPropHonly },
      { name: "naive",  color: GREEN,  v: propNaive, e: errPropNaive } ] },
  { title: "b.", box: [66, 271, 567, 458], y: [0.495, 0.525], ticks: yTicksB, fmt: ".3f", trials: trialsP,
    ylabel: "balance_k", ylabelX: 15, alpha: 1, legend: "upper",
    series: [
      { name: "full",   color: BLUE, v: balKFull,  e: errBalKFull },
      { name: "k-only", color: RED,  v: balKKonly, e: errBalKKonly } ] },
  { title: "c.", box: [631, 271, 1133, 458], y: [0.49, 0.58], ticks: yTicksC, fmt: ".2f", trials: trialsP,
    ylabel: "balance_h", ylabelX: 587, alpha: 1, legend: "upper",
    series: [
      { name: "full",   color: BLUE, v: balHFull,  e: errBalHFull },
      { name: "h-only", color: RED,  v: balHHonly, e: errBalHHonly } ] },
  { title: "d.", box: [66, 522, 567, 708], y: [0.975, 1.02], ticks: yTicksD, fmt: ".2f", trials: trialsP,
    ylabel: "strength_k", ylabelX: 21, alpha: 1, legend: "lower",
    series: [
      { name: "full",   color: BLUE, v: strKFull,  e: errStrKFull },
      { name: "k-only", color: RED,  v: strKKonly, e: errStrKKonly } ] },
  { title: "e.", box: [631, 522, 1133, 708], y: [0.98, 1.07], ticks: yTicksE, fmt: ".2f", trials: trialsP,
    ylabel: "strength_h", ylabelX: 588, alpha: 1, legend: "upper",
    series: [
      { name: "full",   color: BLUE, v: strHFull,  e: errStrHFull },
      { name: "h-only", color: RED,  v: strHHonly, e: errStrHHonly } ] }
];

const svg = d3.select("#fig");
svg.append("rect").attr("width", 1136).attr("height", 744).attr("fill", "#fff");
const defs = svg.append("defs");
const CAP = 3;          // half-width of error-bar caps, px
const TICK = 4;         // inward tick length, px

panels.forEach((p, pi) => {
  const [x0, y0, x1, y1] = p.box;
  const x = d3.scaleLinear().domain([0, 499]).range([x0, x1]);
  const y = d3.scaleLinear().domain(p.y).range([y1, y0]);
  const g = svg.append("g");
  const faded = p.alpha < 1;
  const lineAlpha = faded ? 0.7 : 1;
  const lineWidth = faded ? 2.2 : 1.3;
  const capAlpha = faded ? p.alpha : 0.55;
  const barWidth = faded ? 1.2 : 1.8;   // dense traces: bars drawn a little heavier

  const clipId = "clip" + pi;
  defs.append("clipPath").attr("id", clipId)
    .append("rect").attr("x", x0).attr("y", y0).attr("width", x1 - x0).attr("height", y1 - y0);
  const plot = g.append("g").attr("clip-path", `url(#${clipId})`);

  // error-bar series: connecting line, then bars, then caps
  p.series.forEach(s => {
    const pts = p.trials.map((t, i) => ({ t, v: s.v[i], e: s.e[i] }));
    const sg = plot.append("g");
    sg.append("path").datum(pts)
      .attr("d", d3.line().x(d => x(d.t)).y(d => y(d.v)))
      .attr("fill", "none").attr("stroke", s.color)
      .attr("stroke-width", lineWidth).attr("stroke-opacity", lineAlpha);
    sg.selectAll("line.bar").data(pts).join("line").attr("class", "bar")
      .attr("x1", d => x(d.t)).attr("x2", d => x(d.t))
      .attr("y1", d => y(d.v - d.e)).attr("y2", d => y(d.v + d.e))
      .attr("stroke", s.color).attr("stroke-width", barWidth).attr("stroke-opacity", p.alpha);
    const caps = pts.flatMap(d => [d.v - d.e, d.v + d.e].map(c => ({ t: d.t, c })));
    sg.selectAll("line.cap").data(caps).join("line").attr("class", "cap")
      .attr("x1", d => x(d.t) - CAP).attr("x2", d => x(d.t) + CAP)
      .attr("y1", d => y(d.c)).attr("y2", d => y(d.c))
      .attr("stroke", s.color).attr("stroke-width", 1).attr("stroke-opacity", capAlpha);
  });

  // axes with inward ticks on all four sides
  const fmt = d3.format(p.fmt);
  const axB = g.append("g").attr("transform", `translate(0,${y1})`)
    .call(d3.axisBottom(x).tickValues(xTicks).tickSize(-TICK).tickPadding(7.5));
  const axT = g.append("g").attr("transform", `translate(0,${y0})`)
    .call(d3.axisTop(x).tickValues(xTicks).tickSize(-TICK).tickFormat(""));
  const axL = g.append("g").attr("transform", `translate(${x0},0)`)
    .call(d3.axisLeft(y).tickValues(p.ticks).tickSize(-TICK).tickPadding(4).tickFormat(fmt));
  const axR = g.append("g").attr("transform", `translate(${x1},0)`)
    .call(d3.axisRight(y).tickValues(p.ticks).tickSize(-TICK).tickFormat(""));
  [axB, axT, axL, axR].forEach(a => {
    a.select(".domain").remove();
    a.selectAll("line").attr("stroke", "#000");
    a.selectAll("text").attr("font-size", 12).attr("font-family", "DejaVu Sans").attr("fill", "#000");
  });

  // frame
  g.append("rect").attr("x", x0).attr("y", y0).attr("width", x1 - x0).attr("height", y1 - y0)
    .attr("fill", "none").attr("stroke", "#000").attr("stroke-width", 1);

  // title and axis labels
  g.append("text").attr("x", (x0 + x1) / 2).attr("y", y0 - 6)
    .attr("text-anchor", "middle").attr("font-size", 14.4).text(p.title);
  g.append("text").attr("x", (x0 + x1) / 2).attr("y", y1 + 33)
    .attr("text-anchor", "middle").attr("font-size", 12).text("Trial");
  g.append("text").attr("transform", `translate(${p.ylabelX},${(y0 + y1) / 2}) rotate(-90)`)
    .attr("text-anchor", "middle").attr("dominant-baseline", "central")
    .attr("font-size", 12).text(p.ylabel);

  // legend
  const n = p.series.length;
  const boxH = 13.3 + (n - 1) * 22.7 + 14.5;
  const lx = x0 + 7.3;
  const ly = p.legend === "upper" ? y0 + 7.3 : y1 - 6.5 - boxH;
  const lg = g.append("g");
  const frame = lg.append("rect").attr("x", lx).attr("y", ly).attr("height", boxH)
    .attr("fill", "#fff").attr("stroke", "#000").attr("stroke-width", 1);
  let maxW = 0;
  p.series.forEach((s, i) => {
    const cy = ly + 13.3 + i * 22.7;
    const hx0 = lx + 8, hx1 = lx + 36;
    lg.append("line").attr("x1", hx0).attr("x2", hx1).attr("y1", cy).attr("y2", cy)
      .attr("stroke", s.color).attr("stroke-opacity", faded ? p.alpha : 1);
    [hx0, hx1].forEach(hx => {
      lg.append("line").attr("x1", hx).attr("x2", hx).attr("y1", cy - 8).attr("y2", cy + 8)
        .attr("stroke", s.color).attr("stroke-opacity", p.alpha);
      [cy - 8, cy + 8].forEach(cc => lg.append("line")
        .attr("x1", hx - CAP).attr("x2", hx + CAP).attr("y1", cc).attr("y2", cc)
        .attr("stroke", s.color).attr("stroke-opacity", capAlpha));
    });
    const t = lg.append("text").attr("x", lx + 49).attr("y", cy)
      .attr("dominant-baseline", "central").attr("font-size", 14.4).text(s.name);
    maxW = Math.max(maxW, t.node().getComputedTextLength());
  });
  frame.attr("width", 49 + maxW + 7);
});
</script>
</body>
</html>
